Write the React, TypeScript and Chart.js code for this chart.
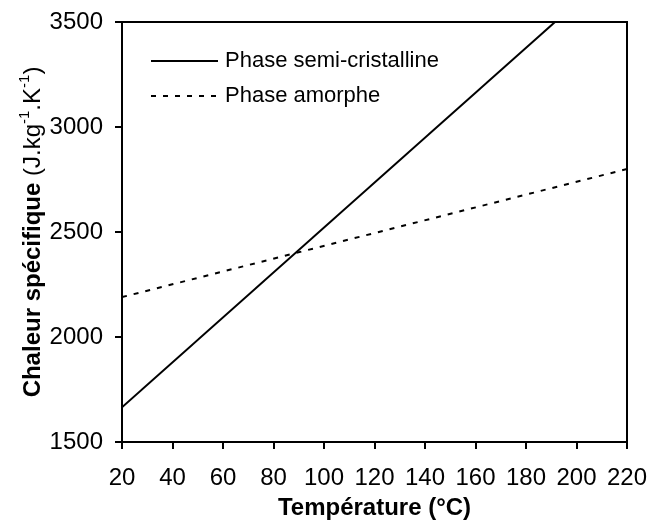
import React, { useEffect, useRef } from 'react';
import { Chart, registerables } from 'chart.js';

Chart.register(...registerables);

// ---- data ----
const temperatures = [20, 220];
const semiCristalline = [1665, 3805];
const amorphe = [2190, 2800];
const seriesLabels = ['Phase semi-cristalline', 'Phase amorphe'];
const xTitle = 'Température (°C)';
const yTitleParts = [
  { text: 'Chaleur spécifique ', bold: true, sup: false },
  { text: '(J.kg', bold: false, sup: false },
  { text: '-1', bold: false, sup: true },
  { text: '.K', bold: false, sup: false },
  { text: '-1', bold: false, sup: true },
  { text: ')', bold: false, sup: false },
];
const xMin = 20, xMax = 220, xStep = 20;
const yMin = 1500, yMax = 3500, yStep = 500;

const FONT = "'Liberation Sans', Arial, sans-serif";
const dash = [5, 7];

const decorPlugin = {
  id: 'decor',
  afterDraw(chart: any) {
    const { ctx, chartArea: a } = chart;
    ctx.save();
    // frame top & right
    ctx.strokeStyle = '#000';
    ctx.lineWidth = 2;
    ctx.beginPath();
    ctx.moveTo(a.left, a.top);
    ctx.lineTo(a.right, a.top);
    ctx.lineTo(a.right, a.bottom);
    ctx.stroke();

    // legend
    const lx0 = a.left + 29, lx1 = a.left + 96, tx = a.left + 103;
    const ly = [a.top + 39, a.top + 74];
    ctx.font = `22px ${FONT}`;
    ctx.fillStyle = '#000';
    ctx.textBaseline = 'middle';
    ctx.textAlign = 'left';
    seriesLabels.forEach((lab, i) => {
      ctx.setLineDash(i === 0 ? [] : dash);
      ctx.lineWidth = 2;
      ctx.beginPath();
      ctx.moveTo(lx0, ly[i]);
      ctx.lineTo(lx1, ly[i]);
      ctx.stroke();
      ctx.setLineDash([]);
      ctx.fillText(lab, tx, ly[i]);
    });

    // y title (rotated, mixed styles)
    const cx = 33, cy = (a.top + a.bottom) / 2;
    const fontOf = (p: any) => p.sup ? `15px ${FONT}` : `${p.bold ? 'bold ' : ''}24px ${FONT}`;
    let total = 0;
    const widths = yTitleParts.map((p) => {
      ctx.font = fontOf(p);
      const w = ctx.measureText(p.text).width;
      total += w;
      return w;
    });
    ctx.translate(cx, cy);
    ctx.rotate(-Math.PI / 2);
    let x = -total / 2;
    yTitleParts.forEach((p, i) => {
      ctx.font = fontOf(p);
      ctx.fillText(p.text, x, p.sup ? -8 : 0);
      x += widths[i];
    });
    ctx.restore();
  },
};

export default function App() {
  const ref = useRef<HTMLCanvasElement>(null);
  useEffect(() => {
    if (!ref.current) return;
    const chart = new Chart(ref.current, {
      type: 'line',
      data: {
        datasets: [
          {
            label: seriesLabels[0],
            data: temperatures.map((t, i) => ({ x: t, y: semiCristalline[i] })),
            borderColor: '#000',
            borderWidth: 2,
            pointRadius: 0,
            fill: false,
            clip: 0 as any,
          },
          {
            label: seriesLabels[1],
            data: temperatures.map((t, i) => ({ x: t, y: amorphe[i] })),
            borderColor: '#000',
            borderWidth: 2,
            borderDash: dash,
            pointRadius: 0,
            fill: false,
            clip: 0 as any,
          },
        ],
      },
      options: {
        animation: false,
        responsive: true,
        maintainAspectRatio: false,
        layout: { padding: { top: 22, right: 22, left: 0, bottom: 0 } },
        plugins: { legend: { display: false }, tooltip: { enabled: false } },
        scales: {
          x: {
            type: 'linear',
            min: xMin,
            max: xMax,
            ticks: { stepSize: xStep, color: '#000', font: { family: FONT, size: 24 }, padding: 15, maxRotation: 0, callback: (v: any) => String(v) },
            grid: { drawOnChartArea: false, drawTicks: true, tickLength: 7, color: '#000', lineWidth: 2 },
            border: { display: true, color: '#000', width: 2 },
            title: { display: true, text: xTitle, color: '#000', font: { family: FONT, size: 24, weight: 'bold' }, padding: { top: 0, bottom: 1 } },
            afterFit: (s: any) => { s.height = 82; s.paddingLeft = 0; s.paddingRight = 0; },
          },
          y: {
            type: 'linear',
            min: yMin,
            max: yMax,
            ticks: { stepSize: yStep, color: '#000', font: { family: FONT, size: 24 }, padding: 12, callback: (v: any) => String(v) },
            grid: { drawOnChartArea: false, drawTicks: true, tickLength: 7, color: '#000', lineWidth: 2 },
            border: { display: true, color: '#000', width: 2 },
            afterFit: (s: any) => { s.width = 122; s.paddingTop = 0; s.paddingBottom = 0; },
          },
        },
      },
      plugins: [decorPlugin],
    });
    return () => chart.destroy();
  }, []);
  return (
    <div style={{ position: 'absolute', left: 0, top: 0, width: 649, height: 524 }}>
      <canvas ref={ref} />
    </div>
  );
}
